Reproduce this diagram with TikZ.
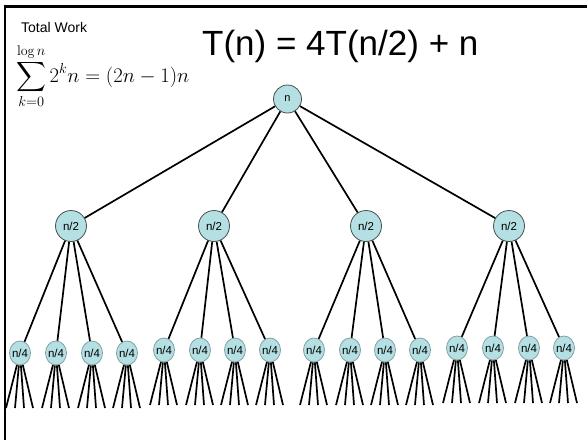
\documentclass[tikz,border=0pt]{standalone}
\usepackage{exscale}
\usepackage{fontspec}
\newfontfamily\arialfont{Liberation Sans}
\usetikzlibrary{shapes.geometric}
\definecolor{nodefill}{RGB}{180,224,228}
\definecolor{nodeline}{RGB}{70,80,80}
\definecolor{leafline}{RGB}{130,160,162}
\begin{document}
\begin{tikzpicture}[x=1pt,y=-1pt,
  edge/.style={line width=1.7pt,black},
  rootnode/.style={circle,draw=nodeline,line width=0.8pt,fill=nodefill,minimum size=28pt,inner sep=0pt,font=\arialfont\fontsize{11}{12}\selectfont},
  midnode/.style={circle,draw=nodeline,line width=0.8pt,fill=nodefill,minimum size=31pt,inner sep=0pt,font=\arialfont\fontsize{11.5}{12}\selectfont},
  leafnode/.style={ellipse,draw=leafline,line width=0.8pt,fill=nodefill,minimum width=21pt,minimum height=24pt,inner sep=0pt,font=\arialfont\fontsize{11.5}{12}\selectfont},
  txt/.style={anchor=base west,inner sep=0pt}]
\useasboundingbox (0,0) rectangle (587,440);
\fill[white] (0,0) rectangle (587,440);
% frame
\coordinate (ftl) at (3.5,6);
\coordinate (ftr) at (587,6);
\coordinate (fbl) at (5,440);
\draw[line width=3pt] (ftl) -- (ftr);
\draw[line width=2.2pt] (5,4.5) -- (fbl);
% texts
\node[txt,font=\arialfont\fontsize{14}{16}\selectfont] (tw) at (21,32) {Total Work};
\node[txt] (sum) at (16,82) {\fontsize{20}{24}\selectfont $\displaystyle\sum_{k=0}^{\log n}2^kn=(2n-1)n$};
\node[txt,font=\arialfont\fontsize{35}{40}\selectfont] (title) at (202,55) {T(n) = 4T(n/2) + n};
% nodes
\node[rootnode] (r) at (287.5,99) {n};
\node[midnode] (m1) at (71,226) {n/2};
\node[midnode] (m2) at (214,226) {n/2};
\node[midnode] (m3) at (366,226) {n/2};
\node[midnode] (m4) at (509,226) {n/2};
\node[leafnode] (l11) at (20,353) {\makebox[0pt]{n/4}};
\node[leafnode] (l12) at (56,353) {\makebox[0pt]{n/4}};
\node[leafnode] (l13) at (92,353) {\makebox[0pt]{n/4}};
\node[leafnode] (l14) at (127,353) {\makebox[0pt]{n/4}};
\node[leafnode] (l21) at (164,350) {\makebox[0pt]{n/4}};
\node[leafnode] (l22) at (200,350) {\makebox[0pt]{n/4}};
\node[leafnode] (l23) at (235,350) {\makebox[0pt]{n/4}};
\node[leafnode] (l24) at (270,350) {\makebox[0pt]{n/4}};
\node[leafnode] (l31) at (314,350) {\makebox[0pt]{n/4}};
\node[leafnode] (l32) at (350,350) {\makebox[0pt]{n/4}};
\node[leafnode] (l33) at (385,350) {\makebox[0pt]{n/4}};
\node[leafnode] (l34) at (420,350) {\makebox[0pt]{n/4}};
\node[leafnode] (l41) at (457,348) {\makebox[0pt]{n/4}};
\node[leafnode] (l42) at (493,348) {\makebox[0pt]{n/4}};
\node[leafnode] (l43) at (529,348) {\makebox[0pt]{n/4}};
\node[leafnode] (l44) at (564,348) {\makebox[0pt]{n/4}};
% edges
\foreach \i in {1,...,4}{
  \draw[edge] (r) -- (m\i);
  \foreach \j in {1,...,4}{
    \draw[edge] (m\i) -- (l\i\j);
    \foreach \dx [count=\k] in {-14,-5,4,13}{
      \path (l\i\j.center) ++(\dx,55) coordinate (e\i\j\k);
      \draw[edge] (l\i\j) -- (e\i\j\k);
    }
  }
}
\end{tikzpicture}
\end{document}
